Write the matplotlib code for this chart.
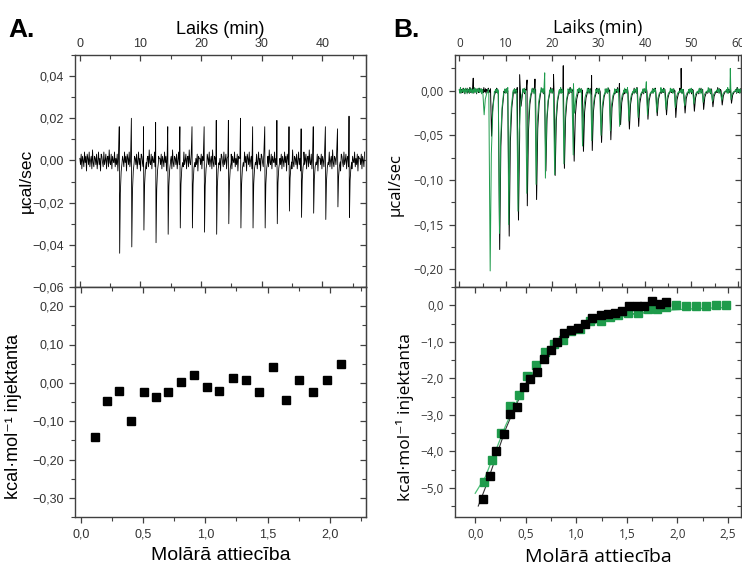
import numpy as np
import matplotlib
matplotlib.use("Agg")
import matplotlib.pyplot as plt
from matplotlib.ticker import MultipleLocator, FuncFormatter

plt.rcParams['font.family'] = ['Liberation Sans', 'DejaVu Sans']

# ---------- panel A: raw thermogram ----------
a_inj_t = [6.5, 8.5, 10.5, 12.5, 14.5, 16.5, 18.5, 20.5, 22.5, 24.5,
           26.5, 28.5, 30.5, 32.5, 34.5, 36.5, 38.5, 40.5, 42.5, 44.4]
a_inj_low = [-0.044, -0.041, -0.033, -0.039, -0.035, -0.032, -0.032, -0.034, -0.035, -0.030,
             -0.032, -0.032, -0.032, -0.030, -0.024, -0.027, -0.025, -0.028, -0.022, -0.027]
a_inj_high = [0.016, 0.020, 0.016, 0.018, 0.016, 0.016, 0.016, 0.016, 0.019, 0.019,
              0.020, 0.016, 0.016, 0.019, 0.016, 0.015, 0.016, 0.016, 0.015, 0.021]
# baseline wiggle (x 0.001 ucal/sec)
a_noise = [1, -2, 3, -4, 2, 0, -3, 4, -1, 2, -5, 3, 1, -2, 4, -3, 0, 2, -4, 5,
           -1, -3, 2, 1, -2, 3, -4, 0, 4, -2, 1, -5, 3, 2, -1, -3, 4, -2, 0, 3,
           -4, 1, 2, -3, 5, -1, -2, 3, -4, 2, 0, -1, 4, -3, 1, -2, 3, -5, 2, 1]

# ---------- panel A: integrated heats ----------
a_ratio = [0.115, 0.210, 0.307, 0.407, 0.504, 0.604, 0.703, 0.803, 0.908, 1.013,
           1.113, 1.220, 1.325, 1.433, 1.541, 1.648, 1.756, 1.866, 1.976, 2.091]
a_heat = [-0.141, -0.047, -0.021, -0.100, -0.023, -0.038, -0.024, 0.003, 0.020, -0.012,
          -0.022, 0.012, 0.008, -0.023, 0.042, -0.045, 0.007, -0.024, 0.008, 0.048]

# ---------- panel B: raw thermograms ----------
b_black_t = [6.8, 8.55, 10.6, 12.6, 14.5, 16.5, 18.5, 20.5, 22.5, 24.6, 26.6, 28.5, 30.5, 32.5,
             34.6, 36.5, 38.5, 40.5, 42.5, 44.5, 46.5, 48.5, 50.5, 52.5, 54.5, 56.5, 58.5]
b_black_low = [-0.051, -0.178, -0.163, -0.145, -0.129, -0.122, -0.090, -0.095, -0.087, -0.079,
               -0.068, -0.067, -0.058, -0.055, -0.038, -0.043, -0.040, -0.032, -0.028, -0.027,
               -0.030, -0.025, -0.023, -0.021, -0.018, -0.016, -0.014]
b_green_t = [5.2, 6.5, 8.5, 10.5, 12.5, 14.4, 16.4, 18.4, 20.4, 22.4, 24.4, 26.4, 28.4, 30.4,
             32.4, 34.4, 36.4, 38.4, 40.4, 42.4, 44.4, 46.4, 48.4, 50.4, 52.4, 54.4, 56.4, 58.4]
b_green_low = [-0.027, -0.202, -0.160, -0.150, -0.135, -0.115, -0.105, -0.098, -0.094, -0.082,
               -0.072, -0.062, -0.056, -0.050, -0.045, -0.040, -0.034, -0.030, -0.027, -0.024,
               -0.021, -0.019, -0.017, -0.015, -0.013, -0.012, -0.011, -0.010]
b_black_spike_t = [3.0, 13.0, 14.6, 16.3, 20.3, 22.4, 28.5, 34.5, 47.8]
b_black_spike_h = [0.014, 0.018, 0.012, 0.013, 0.018, 0.028, 0.017, 0.008, 0.025]
b_green_spike_t = [18.4, 24.6, 40.3, 58.4]
b_green_spike_h = [0.020, 0.008, 0.010, 0.025]

# ---------- panel B: integrated heats + fits ----------
b_black_x = [0.082, 0.145, 0.21, 0.28, 0.34, 0.41, 0.48, 0.54, 0.61, 0.68, 0.75, 0.81, 0.88, 0.95,
             1.02, 1.09, 1.16, 1.24, 1.31, 1.38, 1.45, 1.52, 1.60, 1.67, 1.75, 1.83, 1.89]
b_black_y = [-5.31, -4.69, -3.99, -3.54, -2.98, -2.79, -2.25, -2.02, -1.84, -1.47, -1.23, -1.02,
             -0.75, -0.68, -0.61, -0.50, -0.35, -0.27, -0.25, -0.22, -0.15, -0.02, -0.02, -0.02,
             0.12, 0.03, 0.10]
b_green_x = [0.086, 0.17, 0.26, 0.34, 0.43, 0.51, 0.60, 0.69, 0.78, 0.87, 0.95, 1.04, 1.14, 1.24,
             1.33, 1.41, 1.51, 1.61, 1.71, 1.80, 1.89, 1.99, 2.09, 2.18, 2.28, 2.38, 2.48]
b_green_y = [-4.85, -4.23, -3.50, -2.75, -2.46, -1.95, -1.65, -1.29, -1.05, -0.94, -0.71, -0.64,
             -0.44, -0.44, -0.33, -0.26, -0.20, -0.20, -0.10, -0.10, -0.06, 0.0, -0.02, -0.02,
             -0.02, 0.0, 0.0]
b_black_fit_x = [0.03, 0.1, 0.2, 0.3, 0.4, 0.5, 0.6, 0.7, 0.8, 0.9, 1.0, 1.2, 1.4, 1.6, 1.8, 1.92]
b_black_fit_y = [-5.5, -5.0, -4.2, -3.4, -2.75, -2.2, -1.75, -1.38, -1.08, -0.85, -0.67,
                 -0.43, -0.30, -0.22, -0.18, -0.16]
b_green_fit_x = [0.0, 0.1, 0.2, 0.3, 0.4, 0.5, 0.6, 0.7, 0.8, 0.9, 1.0, 1.2, 1.4, 1.6, 1.8, 2.0, 2.2, 2.5]
b_green_fit_y = [-5.15, -4.7, -4.0, -3.3, -2.7, -2.15, -1.72, -1.38, -1.1, -0.88, -0.72,
                 -0.48, -0.33, -0.23, -0.16, -0.12, -0.09, -0.06]

GREEN = '#1e9b4b'
SPINE = '#404040'
B_FONT = ['Open Sans', 'DejaVu Sans']


def comma_fmt(dec):
    def f(v, pos):
        s = f"{abs(v):.{dec}f}".replace('.', ',')
        return ('\u2212' + s) if v < -1e-9 else s
    return FuncFormatter(f)


def build_trace(t_end, step, noise, scale, inj_t, inj_low, inj_high=None,
                spike_t=(), spike_h=(), width=0.5):
    # baseline samples, with the injection windows cut out and peaks put in
    pts = []
    k = 0
    t = 0.0
    while t <= t_end:
        if not any(ti - 0.05 <= t <= ti + width for ti in inj_t):
            pts.append((t, noise[k % len(noise)] * scale))
        k += 1
        t += step
    for i, ti in enumerate(inj_t):
        lo = inj_low[i]
        if inj_high is not None:
            pts.append((ti, inj_high[i]))
        pts.append((ti + 0.15 * width, lo))
        pts.append((ti + 0.4 * width, lo * 0.35))
        pts.append((ti + 0.7 * width, lo * 0.12))
        pts.append((ti + 1.0 * width, lo * 0.03))
    for ts, hs in zip(spike_t, spike_h):
        pts.append((ts, hs))
    pts.sort()
    xs, ys = zip(*pts)
    return np.array(xs), np.array(ys)


def style(ax):
    for s in ax.spines.values():
        s.set_color(SPINE)
        s.set_linewidth(1.0)
    ax.tick_params(which='both', colors=SPINE, labelcolor='#333333', labelsize=9)
    ax.tick_params(which='major', length=4.5, width=0.9)
    ax.tick_params(which='minor', length=2.8, width=0.8)


def inner_ticks(ax, side, major, minor):
    sec = ax.secondary_yaxis(side) if side == 'right' else ax.secondary_xaxis(side)
    a = sec.yaxis if side == 'right' else sec.xaxis
    a.set_major_locator(MultipleLocator(major))
    a.set_minor_locator(MultipleLocator(minor))
    sec.tick_params(which='both', direction='in', labelright=False, labeltop=False,
                    labelbottom=False, colors=SPINE)
    sec.tick_params(which='major', length=4.5, width=0.9)
    sec.tick_params(which='minor', length=2.8, width=0.8)
    for s in sec.spines.values():
        s.set_color(SPINE)


fig = plt.figure(figsize=(7.42, 5.66), dpi=100)
W, H = 742.0, 566.0


def add_axes(l, r, t, b):
    return fig.add_axes([l / W, 1 - b / H, (r - l) / W, (b - t) / H])


# ===== A top =====
ax = add_axes(75, 366, 55, 287)
tx, ty = build_trace(47.0, 0.11, a_noise, 0.001, a_inj_t, a_inj_low, a_inj_high, width=0.45)
ax.plot(tx, ty, color='black', lw=0.6)
ax.set_xlim(-0.8, 47.2)
ax.set_ylim(-0.06, 0.05)
ax.xaxis.set_major_locator(MultipleLocator(10))
ax.xaxis.set_minor_locator(MultipleLocator(5))
ax.yaxis.set_major_locator(MultipleLocator(0.02))
ax.yaxis.set_minor_locator(MultipleLocator(0.01))
ax.yaxis.set_major_formatter(comma_fmt(2))
ax.xaxis.tick_top()
ax.xaxis.set_label_position('top')
ax.tick_params(axis='x', which='both', top=True, bottom=True, direction='in', labeltop=True, labelbottom=False)
ax.tick_params(axis='y', which='both', left=True, right=False, direction='out')
style(ax)
inner_ticks(ax, 'right', 0.02, 0.01)
ax.set_xlabel('Laiks (min)', fontsize=13, labelpad=3)
ax.set_ylabel('µcal/sec', fontsize=12.5)
ax.yaxis.set_label_coords(-0.14, 0.457)

# ===== A bottom =====
ax = add_axes(75, 366, 287, 517)
ax.plot(a_ratio, a_heat, 's', color='black', ms=6)
ax.set_xlim(-0.046, 2.29)
ax.set_ylim(-0.35, 0.25)
ax.xaxis.set_major_locator(MultipleLocator(0.5))
ax.xaxis.set_minor_locator(MultipleLocator(0.25))
ax.yaxis.set_major_locator(MultipleLocator(0.1))
ax.yaxis.set_minor_locator(MultipleLocator(0.05))
ax.xaxis.set_major_formatter(comma_fmt(1))
ax.yaxis.set_major_formatter(comma_fmt(2))
ax.tick_params(which='both', direction='out', top=False, right=False)
style(ax)
inner_ticks(ax, 'right', 0.1, 0.05)
inner_ticks(ax, 'top', 0.5, 0.25)
ax.set_xlabel('Molārā attiecība', fontsize=14, labelpad=5)
ax.set_ylabel('kcal·mol⁻¹ injektanta', fontsize=13)
ax.yaxis.set_label_coords(-0.182, 0.435)

# ===== B top =====
ax = add_axes(455, 741, 55, 287)
bx, by = build_trace(61.0, 0.12, a_noise, 0.0007, b_black_t, b_black_low,
                     spike_t=b_black_spike_t, spike_h=b_black_spike_h, width=1.0)
ax.plot(bx, by, color='black', lw=0.7)
gx, gy = build_trace(61.0, 0.12, a_noise[17:] + a_noise[:17], 0.0007, b_green_t, b_green_low,
                     spike_t=b_green_spike_t, spike_h=b_green_spike_h, width=1.0)
ax.plot(gx, gy, color=GREEN, lw=0.7)
ax.set_xlim(-0.93, 60.7)
ax.set_ylim(-0.22, 0.04)
ax.xaxis.set_major_locator(MultipleLocator(10))
ax.xaxis.set_minor_locator(MultipleLocator(5))
ax.yaxis.set_major_locator(MultipleLocator(0.05))
ax.yaxis.set_minor_locator(MultipleLocator(0.025))
ax.yaxis.set_major_formatter(comma_fmt(2))
ax.xaxis.tick_top()
ax.xaxis.set_label_position('top')
ax.tick_params(axis='x', which='both', top=True, bottom=True, direction='in', labeltop=True, labelbottom=False)
ax.tick_params(axis='y', which='both', left=True, right=False, direction='out')
style(ax)
for lab in ax.get_xticklabels() + ax.get_yticklabels():
    lab.set_family(B_FONT)
    lab.set_fontsize(8.5)
inner_ticks(ax, 'right', 0.05, 0.025)
ax.set_xlabel('Laiks (min)', fontsize=13, labelpad=3, family=B_FONT)
ax.set_ylabel('µcal/sec', fontsize=12, family=B_FONT)
ax.yaxis.set_label_coords(-0.178, 0.44)

# ===== B bottom =====
ax = add_axes(455, 741, 287, 517)
ax.plot(b_black_fit_x, b_black_fit_y, color='#333333', lw=0.8)
ax.plot(b_green_fit_x, b_green_fit_y, color='#4cc077', lw=0.9)
ax.plot(b_green_x, b_green_y, 's', color=GREEN, ms=5.3)
ax.plot(b_black_x, b_black_y, 's', color='black', ms=5.3)
ax.set_xlim(-0.2, 2.63)
ax.set_ylim(-5.8, 0.5)
ax.xaxis.set_major_locator(MultipleLocator(0.5))
ax.xaxis.set_minor_locator(MultipleLocator(0.25))
ax.yaxis.set_major_locator(MultipleLocator(1.0))
ax.yaxis.set_minor_locator(MultipleLocator(0.5))
ax.xaxis.set_major_formatter(comma_fmt(1))
ax.yaxis.set_major_formatter(comma_fmt(1))
ax.tick_params(which='both', direction='out', top=False, right=False)
style(ax)
for lab in ax.get_xticklabels() + ax.get_yticklabels():
    lab.set_family(B_FONT)
    lab.set_fontsize(8.5)
inner_ticks(ax, 'right', 1.0, 0.5)
inner_ticks(ax, 'top', 0.5, 0.25)
ax.set_xlabel('Molārā attiecība', fontsize=14, labelpad=5, family=B_FONT)
ax.set_ylabel('kcal·mol⁻¹ injektanta', fontsize=12.5, family=B_FONT)
ax.yaxis.set_label_coords(-0.143, 0.435)

fig.text(8 / W, 1 - 37 / H, 'A.', fontsize=19, fontweight='bold')
fig.text(393 / W, 1 - 37 / H, 'B.', fontsize=19, fontweight='bold')

fig.savefig('out.png', dpi=100)
